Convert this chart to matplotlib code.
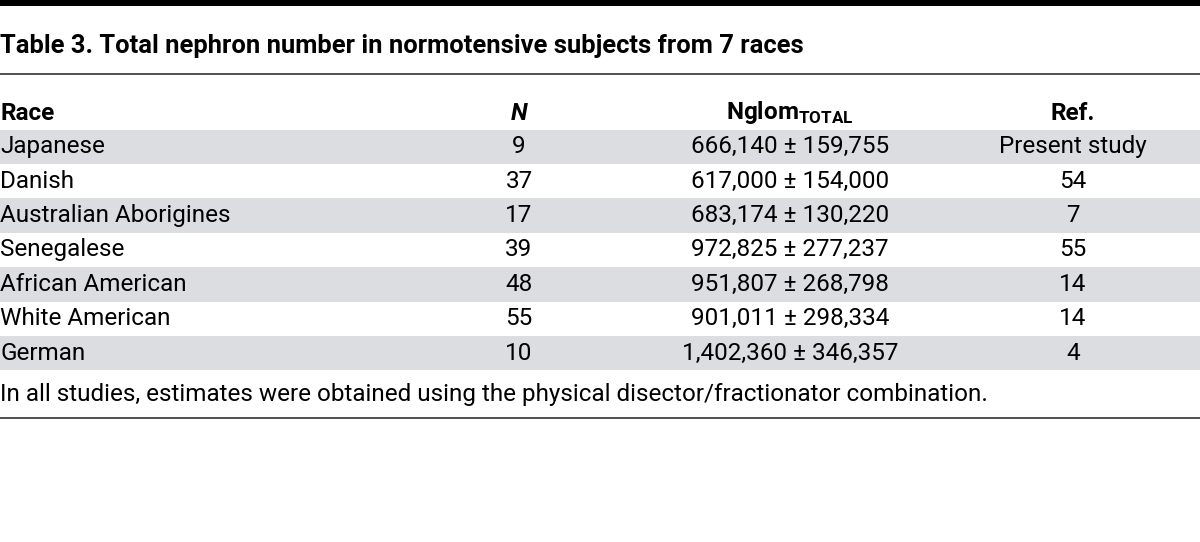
import matplotlib.pyplot as plt
from matplotlib.patches import Rectangle

races = ["Japanese", "Danish", "Australian Aborigines", "Senegalese",
         "African American", "White American", "German"]
n_values = [9, 37, 17, 39, 48, 55, 10]
nglom_mean = [666140, 617000, 683174, 972825, 951807, 901011, 1402360]
nglom_sd = [159755, 154000, 130220, 277237, 268798, 298334, 346357]
refs = ["Present study", "54", "7", "55", "14", "14", "4"]

title = "Table 3. Total nephron number in normotensive subjects from 7 races"
footnote = "In all studies, estimates were obtained using the physical disector/fractionator combination."

fam = ["Roboto", "DejaVu Sans"]
fs = 17.5

fig = plt.figure(figsize=(12, 5.42), dpi=100)
ax = fig.add_axes([0, 0, 1, 1])
ax.set_xlim(0, 1200)
ax.set_ylim(542, 0)
ax.axis("off")

# top black bar and rules
ax.add_patch(Rectangle((0, 0), 1200, 6, color="black", lw=0))
ax.plot([0, 1200], [74, 74], color="#333333", lw=1.2)
ax.plot([0, 1200], [418, 418], color="#333333", lw=1.2)

ax.text(0, 46, title, fontsize=18.4, fontweight="bold", family=fam,
        va="center", ha="left")

col_n, col_ng, col_ref = 519, 790, 1073
hy = 113
ax.text(0, hy, "Race", fontsize=fs, fontweight="bold", family=fam, va="center")
ax.text(col_n, hy, "N", fontsize=fs, fontweight="bold", style="italic",
        family=fam, va="center", ha="center")
ax.text(col_ng, hy, r"Nglom$_{\mathregular{TOTAL}}$", fontsize=fs,
        fontweight="bold", family=fam, va="center", ha="center")
ax.text(col_ref, hy, "Ref.", fontsize=fs, fontweight="bold", family=fam,
        va="center", ha="center")

top, rh = 129.5, 34.4
for i, race in enumerate(races):
    y0 = top + i * rh
    if i % 2 == 0:
        ax.add_patch(Rectangle((0, y0), 1200, rh, color="#dcdde0", lw=0))
    yc = y0 + rh / 2
    ax.text(0, yc, race, fontsize=fs, family=fam, va="center")
    ax.text(col_n, yc, str(n_values[i]), fontsize=fs, family=fam,
            va="center", ha="center")
    ax.text(col_ng, yc, f"{nglom_mean[i]:,} \u00b1 {nglom_sd[i]:,}",
            fontsize=fs, family=fam, va="center", ha="center")
    ax.text(col_ref, yc, refs[i], fontsize=fs, family=fam,
            va="center", ha="center")

ax.text(0, 394, footnote, fontsize=fs, family=fam, va="center")

fig.savefig("out.png", dpi=100)
